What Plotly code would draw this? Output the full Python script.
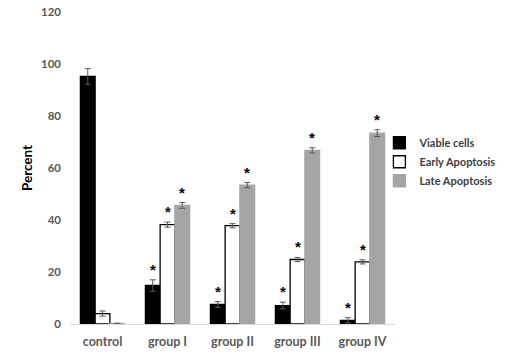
import plotly.graph_objects as go

categories = ["control", "group I", "group II", "group III", "group IV"]
viable = [95.2, 14.8, 7.5, 7.1, 1.4]
viable_err = [3.0, 2.2, 1.1, 1.3, 1.0]
early = [4.0, 38.2, 37.8, 24.8, 23.9]
early_err = [1.0, 1.0, 0.8, 0.8, 0.8]
late = [0.2, 45.6, 53.4, 66.8, 73.4]
late_err = [0.1, 1.1, 1.0, 1.0, 1.3]
signif = [False, True, True, True, True]
y_ticks = [0, 20, 40, 60, 80, 100, 120]

bargap = 0.32
font = "Lato"
tick_col = "#595959"

fig = go.Figure()
series = [
    ("Viable cells", viable, viable_err, "black", "black"),
    ("Early Apoptosis", early, early_err, "white", "black"),
    ("Late Apoptosis", late, late_err, "#A5A5A5", "#A5A5A5"),
]
for name, vals, errs, fill, edge in series:
    fig.add_trace(go.Bar(
        name=name, x=categories, y=vals,
        marker=dict(color=fill, line=dict(color=edge, width=1.3)),
        error_y=dict(type="data", array=errs, color="#595959", thickness=1, width=3),
    ))

bw = (1 - bargap) / 3
for j, (name, vals, errs, fill, edge) in enumerate(series):
    for i, cat in enumerate(categories):
        if signif[i]:
            fig.add_annotation(
                x=i + (j - 1) * bw, y=vals[i] + errs[i], xref="x", yref="y",
                text="<b>*</b>", showarrow=False, yanchor="bottom", yshift=0,
                font=dict(family="Liberation Sans", size=15, color="black"),
            )

fig.update_layout(
    width=508, height=358,
    margin=dict(l=70, r=113, t=12, b=34, autoexpand=False),
    barmode="group", bargap=bargap, bargroupgap=0,
    plot_bgcolor="white", paper_bgcolor="white",
    showlegend=True,
    legend=dict(x=0.952, y=0.52, xanchor="left", yanchor="middle",
                bgcolor="rgba(0,0,0,0)",
                font=dict(family=font, size=11, color="#404040", weight="bold"),
                tracegroupgap=6, itemwidth=30),
    xaxis=dict(showline=True, linecolor="#D9D9D9", linewidth=1, automargin=False,
               tickfont=dict(family=font, size=12.5, color=tick_col, weight="bold"),
               ticks="", ticklabelstandoff=6, showgrid=False),
    yaxis=dict(range=[0, 120], tickvals=y_ticks, showgrid=False, zeroline=False,
               showline=False, ticks="", automargin=False, ticklabelstandoff=8,
               ticklabeloverflow="allow",
               tickfont=dict(family=font, size=11.5, color=tick_col, weight="bold"),
               title=dict(text="<b>Percent</b>", standoff=5,
                          font=dict(family=font, size=13.5, color="black"))),
)
fig.write_html("out.html", config={"displayModeBar": False},
               post_script="document.body.style.margin='0';")
